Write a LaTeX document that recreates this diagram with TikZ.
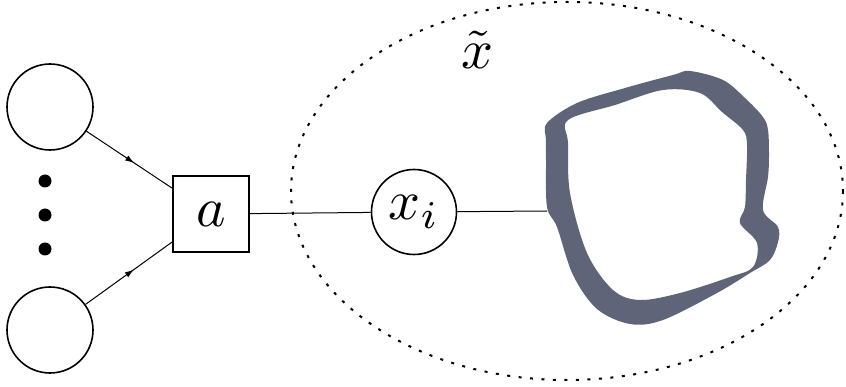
\documentclass[tikz,border=0pt]{standalone}
\usepackage{graphicx}
\usetikzlibrary{arrows.meta,decorations.markings}
\definecolor{blobc}{HTML}{5F6478}
\newcommand{\bigtxt}[1]{\scalebox{5.6}{#1}}
\begin{document}
\begin{tikzpicture}[x=1pt,y=-1pt,
  circ/.style={circle,draw,line width=1.6pt,inner sep=0pt,minimum size=86pt},
  boxn/.style={rectangle,draw,line width=2pt,inner sep=0pt,minimum size=76pt},
  dotn/.style={circle,fill,inner sep=0pt,minimum size=13pt},
  conn/.style={line width=1pt},
  midarrow/.style={postaction={decorate},decoration={markings,
     mark=at position 0.56 with {\arrow{Latex[length=9pt,width=6pt]}}}},
  dottedell/.style={line width=2pt,dash pattern=on 3pt off 8.5pt},
  lbl/.style={inner sep=0pt}]
\useasboundingbox (0,0) rectangle (846,387);
% left nodes
\node[circ] (c1) at (50,107) {};
\node[circ] (c2) at (50,330) {};
\node[dotn] (d1) at (45,181) {};
\node[dotn] (d2) at (45,215) {};
\node[dotn] (d3) at (45,249) {};
\node[boxn] (a) at (211,214) {\bigtxt{$a$}};
\node[circ,minimum size=85pt] (xi) at (414,212) {\bigtxt{$x_i$}};
\node[lbl] (xt) at (477,50) {\bigtxt{$\tilde{x}$}};
\coordinate (b) at (547,211);
% connectors
\draw[conn,midarrow] (c1) -- (a);
\draw[conn,midarrow] (c2) -- (a);
\draw[conn] (a) -- (xi);
\draw[conn] (xi) -- (b);
% dotted ellipse
\draw[dottedell] (567,191) ellipse [x radius=276, y radius=189];
% blob
\fill[blobc,even odd rule]
  plot[smooth cycle,tension=0.55] coordinates {
    (547,123) (577,103) (625,88) (673,75) (690,71) (723,80) (745,98) (763,117) (768,130)
    (769,155) (768,177) (763,210) (778,227) (778,242) (770,260) (750,273)
    (717,293) (663,320) (630,324) (597,309) (573,275) (557,227) (547,207) (546,160) (546,140)}
  plot[smooth cycle,tension=0.55] coordinates {
    (568,120) (615,105) (663,90) (700,93) (722,112) (743,130) (747,145)
    (746,180) (745,207) (740,223) (757,243) (753,267) (730,277)
    (680,293) (640,300) (613,290) (587,253) (570,193) (568,143)};
\end{tikzpicture}
\end{document}
